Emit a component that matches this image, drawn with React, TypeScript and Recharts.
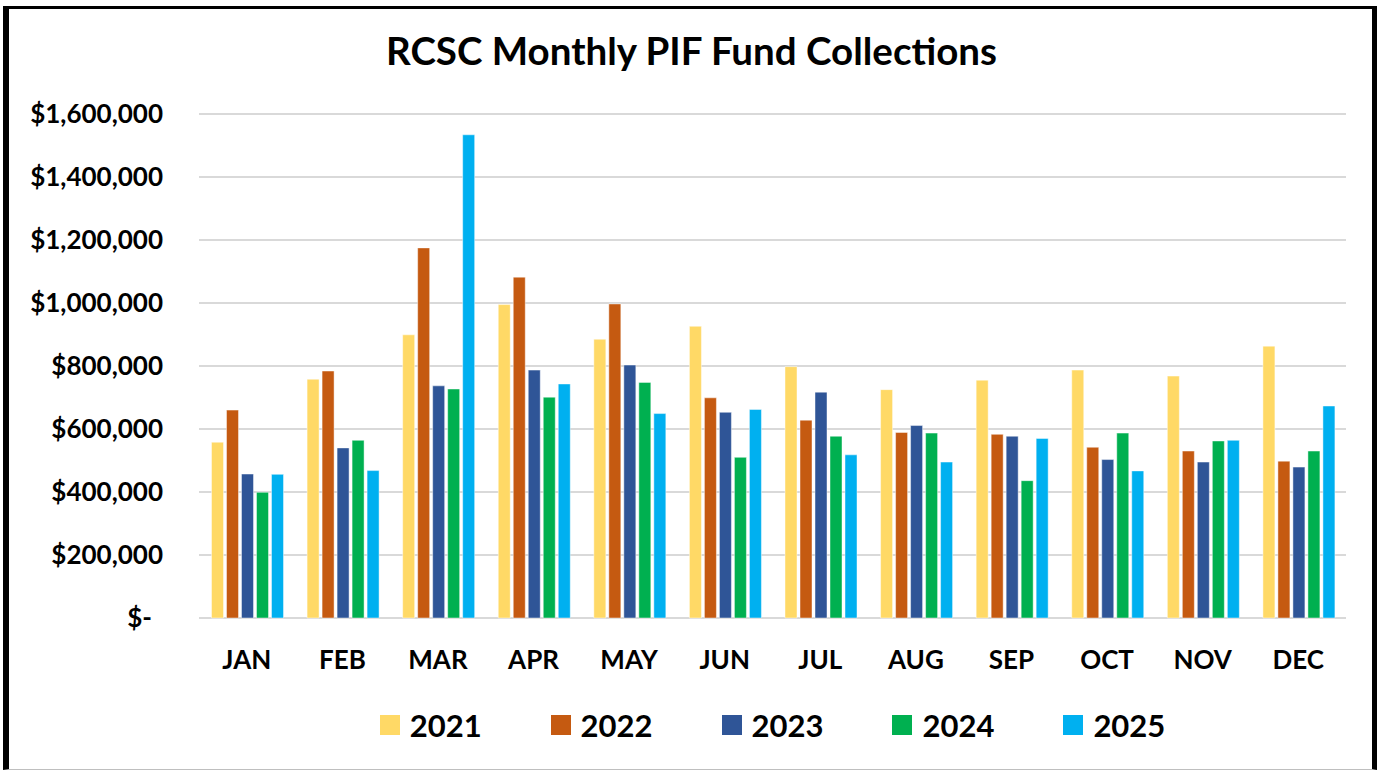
import React from "react";
import {
  BarChart,
  Bar,
  XAxis,
  YAxis,
  CartesianGrid,
  Legend,
} from "recharts";

const months = ["JAN", "FEB", "MAR", "APR", "MAY", "JUN", "JUL", "AUG", "SEP", "OCT", "NOV", "DEC"];

const y2021 = [558000, 758000, 899000, 995000, 885000, 926000, 798000, 725000, 755000, 787000, 768000, 863000];
const y2022 = [660000, 784000, 1175000, 1082000, 997000, 699000, 628000, 589000, 583000, 542000, 530000, 498000];
const y2023 = [457000, 540000, 737000, 787000, 803000, 653000, 717000, 611000, 577000, 503000, 495000, 479000];
const y2024 = [399000, 564000, 727000, 701000, 748000, 510000, 577000, 587000, 436000, 587000, 562000, 530000];
const y2025 = [456000, 468000, 1534000, 743000, 649000, 662000, 518000, 495000, 570000, 467000, 564000, 673000];

const yTicks = [0, 200000, 400000, 600000, 800000, 1000000, 1200000, 1400000, 1600000];

const series = [
  { key: "2021", color: "#FFD966" },
  { key: "2022", color: "#C55A11" },
  { key: "2023", color: "#2F5597" },
  { key: "2024", color: "#00B050" },
  { key: "2025", color: "#00B0F0" },
];

const data = months.map((m, i) => ({
  month: m,
  "2021": y2021[i],
  "2022": y2022[i],
  "2023": y2023[i],
  "2024": y2024[i],
  "2025": y2025[i],
}));

const FONT = "Lato, 'Noto Sans', sans-serif";

function YTick(props: any) {
  const { x, y, payload } = props;
  const v = payload.value as number;
  const label = v === 0 ? "$-" : "$" + v.toLocaleString("en-US");
  return (
    <text
      x={v === 0 ? x - 11 : x}
      y={y}
      dy="0.36em"
      textAnchor="end"
      fill="#000"
      fontFamily={FONT}
      fontWeight={700}
      fontSize={26}
    >
      {label}
    </text>
  );
}

function LegendContent() {
  return (
    <div
      style={{
        display: "flex",
        justifyContent: "center",
        alignItems: "center",
        height: 50,
        fontFamily: FONT,
        fontWeight: 700,
        fontSize: 31,
        color: "#000",
      }}
    >
      {series.map((s, i) => (
        <div
          key={s.key}
          style={{
            display: "flex",
            alignItems: "center",
            marginRight: i < series.length - 1 ? 69 : 0,
          }}
        >
          <span
            style={{
              display: "inline-block",
              width: 20,
              height: 20,
              background: s.color,
              marginRight: 10,
            }}
          />
          <span>{s.key}</span>
        </div>
      ))}
    </div>
  );
}

export default function App() {
  return (
    <div style={{ position: "absolute", left: 0, top: 0, width: 1377, height: 771, background: "#fff" }}>
      <div
        style={{
          position: "absolute",
          left: 3,
          top: 6,
          width: 1374,
          height: 764,
          boxSizing: "border-box",
          borderTop: "3px solid #000",
          borderLeft: "6px solid #000",
          borderRight: "5px solid #000",
          borderBottom: "1px solid #bfbfbf",
        }}
      />
      <div
        style={{
          position: "absolute",
          left: 0,
          top: 31,
          width: 1383,
          textAlign: "center",
          fontFamily: FONT,
          fontWeight: 700,
          fontSize: 38.5,
          lineHeight: "38.5px",
          color: "#000",
        }}
      >
        RCSC Monthly PIF Fund Collections
      </div>
      <div style={{ position: "absolute", left: 0, top: 0 }}>
        <BarChart
          width={1377}
          height={771}
          data={data}
          margin={{ top: 114, right: 31, left: 0, bottom: 43 }}
          barGap={3}
          barCategoryGap={12.5}
        >
          <CartesianGrid vertical={false} stroke="#d9d9d9" strokeWidth={2} />
          <XAxis
            dataKey="month"
            axisLine={false}
            tickLine={false}
            tickSize={0}
            tickMargin={33}
            height={60}
            interval={0}
            tick={{ fill: "#000", fontFamily: FONT, fontWeight: 700, fontSize: 26 }}
          />
          <YAxis
            width={199}
            domain={[0, 1600000]}
            ticks={yTicks}
            interval={0}
            axisLine={false}
            tickLine={false}
            tickSize={0}
            tickMargin={36}
            tick={<YTick />}
          />
          <Legend
            verticalAlign="bottom"
            content={<LegendContent />}
            wrapperStyle={{ left: 199, width: 1147, top: 700, bottom: "auto", height: 50 }}
          />
          {series.map((s) => (
            <Bar
              key={s.key}
              dataKey={s.key}
              fill={s.color}
              stroke="#ffffff"
              strokeOpacity={0.45}
              strokeWidth={1}
              isAnimationActive={false}
            />
          ))}
        </BarChart>
      </div>
    </div>
  );
}
